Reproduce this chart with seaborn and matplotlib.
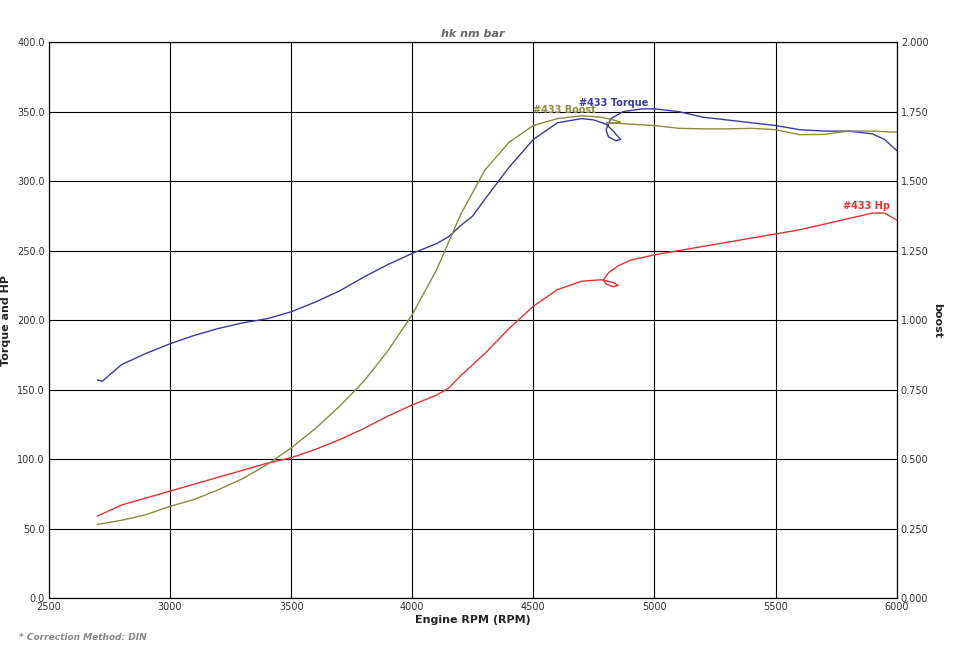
import matplotlib
matplotlib.use("Agg")
import matplotlib.pyplot as plt
import seaborn as sns
import pandas as pd

torque_rpm = [2700,2720,2800,2900,3000,3100,3200,3300,3400,3500,3600,3700,3800,3900,4000,4100,4150,4200,4250,4300,4400,4500,4600,4700,4750,4800,4830,4850,4860,4840,4810,4800,4820,4870,4950,5000,5100,5200,5300,5400,5500,5600,5700,5800,5900,5950,6000]
torque_val = [157,156,168,176,183,189,194,198,201,206,213,221,231,240,248,255,260,268,275,287,310,330,342,345,344,341,336,332,330,329,332,337,345,350,352,352,350,346,344,342,340,337,336,336,334,330,322]
boost_rpm = [2700,2800,2900,3000,3100,3200,3300,3400,3500,3600,3700,3800,3900,4000,4100,4200,4300,4400,4500,4600,4700,4780,4830,4860,4830,4800,4850,4900,5000,5100,5200,5300,5400,5500,5600,5700,5800,5900,6000]
boost_val = [0.265,0.28,0.30,0.33,0.355,0.39,0.43,0.48,0.54,0.61,0.69,0.78,0.89,1.02,1.18,1.38,1.54,1.64,1.70,1.725,1.735,1.73,1.72,1.712,1.707,1.71,1.708,1.705,1.70,1.69,1.688,1.688,1.69,1.685,1.667,1.668,1.68,1.68,1.676]
hp_rpm = [2700,2800,2900,3000,3100,3200,3300,3400,3500,3600,3700,3800,3900,4000,4100,4150,4200,4300,4400,4500,4600,4700,4780,4830,4850,4830,4800,4790,4810,4850,4900,5000,5100,5200,5300,5400,5500,5600,5700,5800,5900,5950,6000]
hp_val = [59,67,72,77,82,87,92,97,101,107,114,122,131,139,146,151,160,176,194,210,222,228,229,227,225,224,226,229,234,239,243,247,250,253,256,259,262,265,269,273,277,277,272]

sns.set_theme(style="white")
fig, ax = plt.subplots(figsize=(9.6, 6.48), dpi=100)
fig.subplots_adjust(left=0.051, right=0.934, top=0.935, bottom=0.077)

kw = dict(x="x", y="y", sort=False, estimator=None, errorbar=None, lw=1)
sns.lineplot(data=pd.DataFrame({"x": torque_rpm, "y": torque_val}), ax=ax, color="#3a3aa8", **kw)
sns.lineplot(data=pd.DataFrame({"x": hp_rpm, "y": hp_val}), ax=ax, color="#ee3030", **kw)
ax2 = ax.twinx()
sns.lineplot(data=pd.DataFrame({"x": boost_rpm, "y": boost_val}), ax=ax2, color="#8c8c3c", **kw)

ax.set_xlim(2500, 6000); ax.set_ylim(0, 400); ax2.set_ylim(0, 2.0)
ax.set_xticks(range(2500, 6001, 500))
ax.set_yticks(range(0, 401, 50))
ax.set_yticklabels([f"{v:.1f}" for v in range(0, 401, 50)])
ax2.set_yticks([i*0.25 for i in range(9)])
ax2.set_yticklabels([f"{i*0.25:.3f}" for i in range(9)])
ax.grid(True, color="black", lw=0.8)
ax.tick_params(labelsize=7, colors="#333333", length=0, pad=3)
ax2.tick_params(labelsize=7, colors="#333333", length=0, pad=3)
for a in (ax, ax2):
    for s in a.spines.values():
        s.set_color("black"); s.set_linewidth(0.8)
ax.set_xlabel("Engine RPM (RPM)", fontsize=8, fontweight="bold", labelpad=2)
ax.set_ylabel("Torque and HP", fontsize=8, fontweight="bold", labelpad=4)
ax2.set_ylabel("boost", fontsize=8, fontweight="bold", rotation=270, labelpad=10)
ax.set_title("hk nm bar", fontsize=8, style="italic", fontweight="bold", color="#666666", pad=4)

ax.text(4690, 354, "#433 Torque", fontsize=7, fontweight="bold", color="#3a3aa8")
ax.text(4500, 349, "#433 Boost", fontsize=7, fontweight="bold", color="#8c8c3c")
ax.text(5780, 280, "#433 Hp", fontsize=7, fontweight="bold", color="#ee3030")
fig.text(0.02, 0.012, "* Correction Method: DIN", fontsize=6.5, style="italic", fontweight="bold", color="#888888")
fig.savefig("out.png")
